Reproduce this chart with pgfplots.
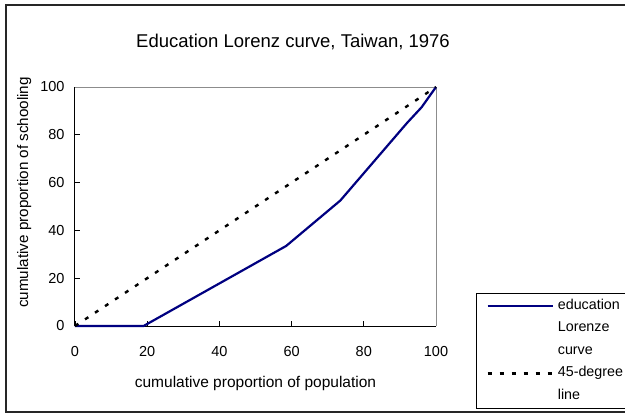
\documentclass[border=0pt]{standalone}
\usepackage{pgfplots}
\pgfplotsset{compat=1.18}
\usepackage{fontspec}
\setmainfont{Liberation Sans}
\definecolor{navyline}{RGB}{0,0,128}
\pgfplotsset{
  longline/.style={legend image code/.code={\draw[##1] (0pt,0pt) -- (65pt,0pt);}},
  blankline/.style={legend image code/.code={}},
}
\begin{document}
\begin{tikzpicture}[x=1pt,y=1pt]
\useasboundingbox (0,0) rectangle (625,413);
\draw[line width=1.3pt, black!85] (6,1) rectangle (626,408);
\node[font=\fontsize{18.5}{22}\selectfont] at (293,371) {Education Lorenz curve, Taiwan, 1976};
\begin{axis}[
  at={(75pt,87pt)}, anchor=south west,
  scale only axis, width=361pt, height=239pt,
  xmin=0, xmax=100, ymin=0, ymax=100,
  xtick={0,20,40,60,80,100}, ytick={0,20,40,60,80,100},
  /pgf/number format/assume math mode=true,
  axis x line*=bottom, axis y line*=left,
  axis line style={black, line width=1pt, -},
  tick align=inside, major tick length=5pt,
  tick style={black, line width=0.8pt},
  xticklabel style={font=\fontsize{14.5}{16}\selectfont, yshift=-17pt},
  yticklabel style={font=\fontsize{14.5}{16}\selectfont, xshift=-7pt},
  xlabel={cumulative proportion of population},
  ylabel={cumulative proportion of schooling},
  xlabel style={font=\fontsize{15.5}{18}\selectfont, at={(axis description cs:0.5,-0.24)}, anchor=center},
  ylabel style={font=\fontsize{15.2}{18}\selectfont, at={(axis description cs:-0.141,0.559)}, anchor=center, rotate=0},
  clip=false,
  legend style={at={(axis description cs:1.111,0.138)}, anchor=north west,
    draw=black, line width=0.8pt, inner xsep=10pt, inner ysep=6pt,
    font=\fontsize{14.3}{17}\selectfont, row sep=9.5pt,
    nodes={text height=10pt, text depth=3pt, inner sep=0pt, inner xsep=4pt}},
  legend cell align=left,
]
\draw[black!45, line width=0.8pt] (rel axis cs:0,1) -- (rel axis cs:1,1) -- (rel axis cs:1,0);
\addplot[navyline, line width=2.2pt, line join=round, longline] coordinates {
  (0,0) (19,0) (58.5,33.5) (73.5,52.5) (92,85) (96,91.5) (100,100)
};
\addlegendentry{education}
\addlegendimage{blankline}
\addlegendentry{Lorenze}
\addlegendimage{blankline}
\addlegendentry{curve}
\addplot[black, line width=2.4pt, dash pattern=on 4pt off 8pt, longline] coordinates {
  (0,0) (100,100)
};
\addlegendentry{45-degree}
\addlegendimage{blankline}
\addlegendentry{line}
\end{axis}
\end{tikzpicture}
\end{document}
